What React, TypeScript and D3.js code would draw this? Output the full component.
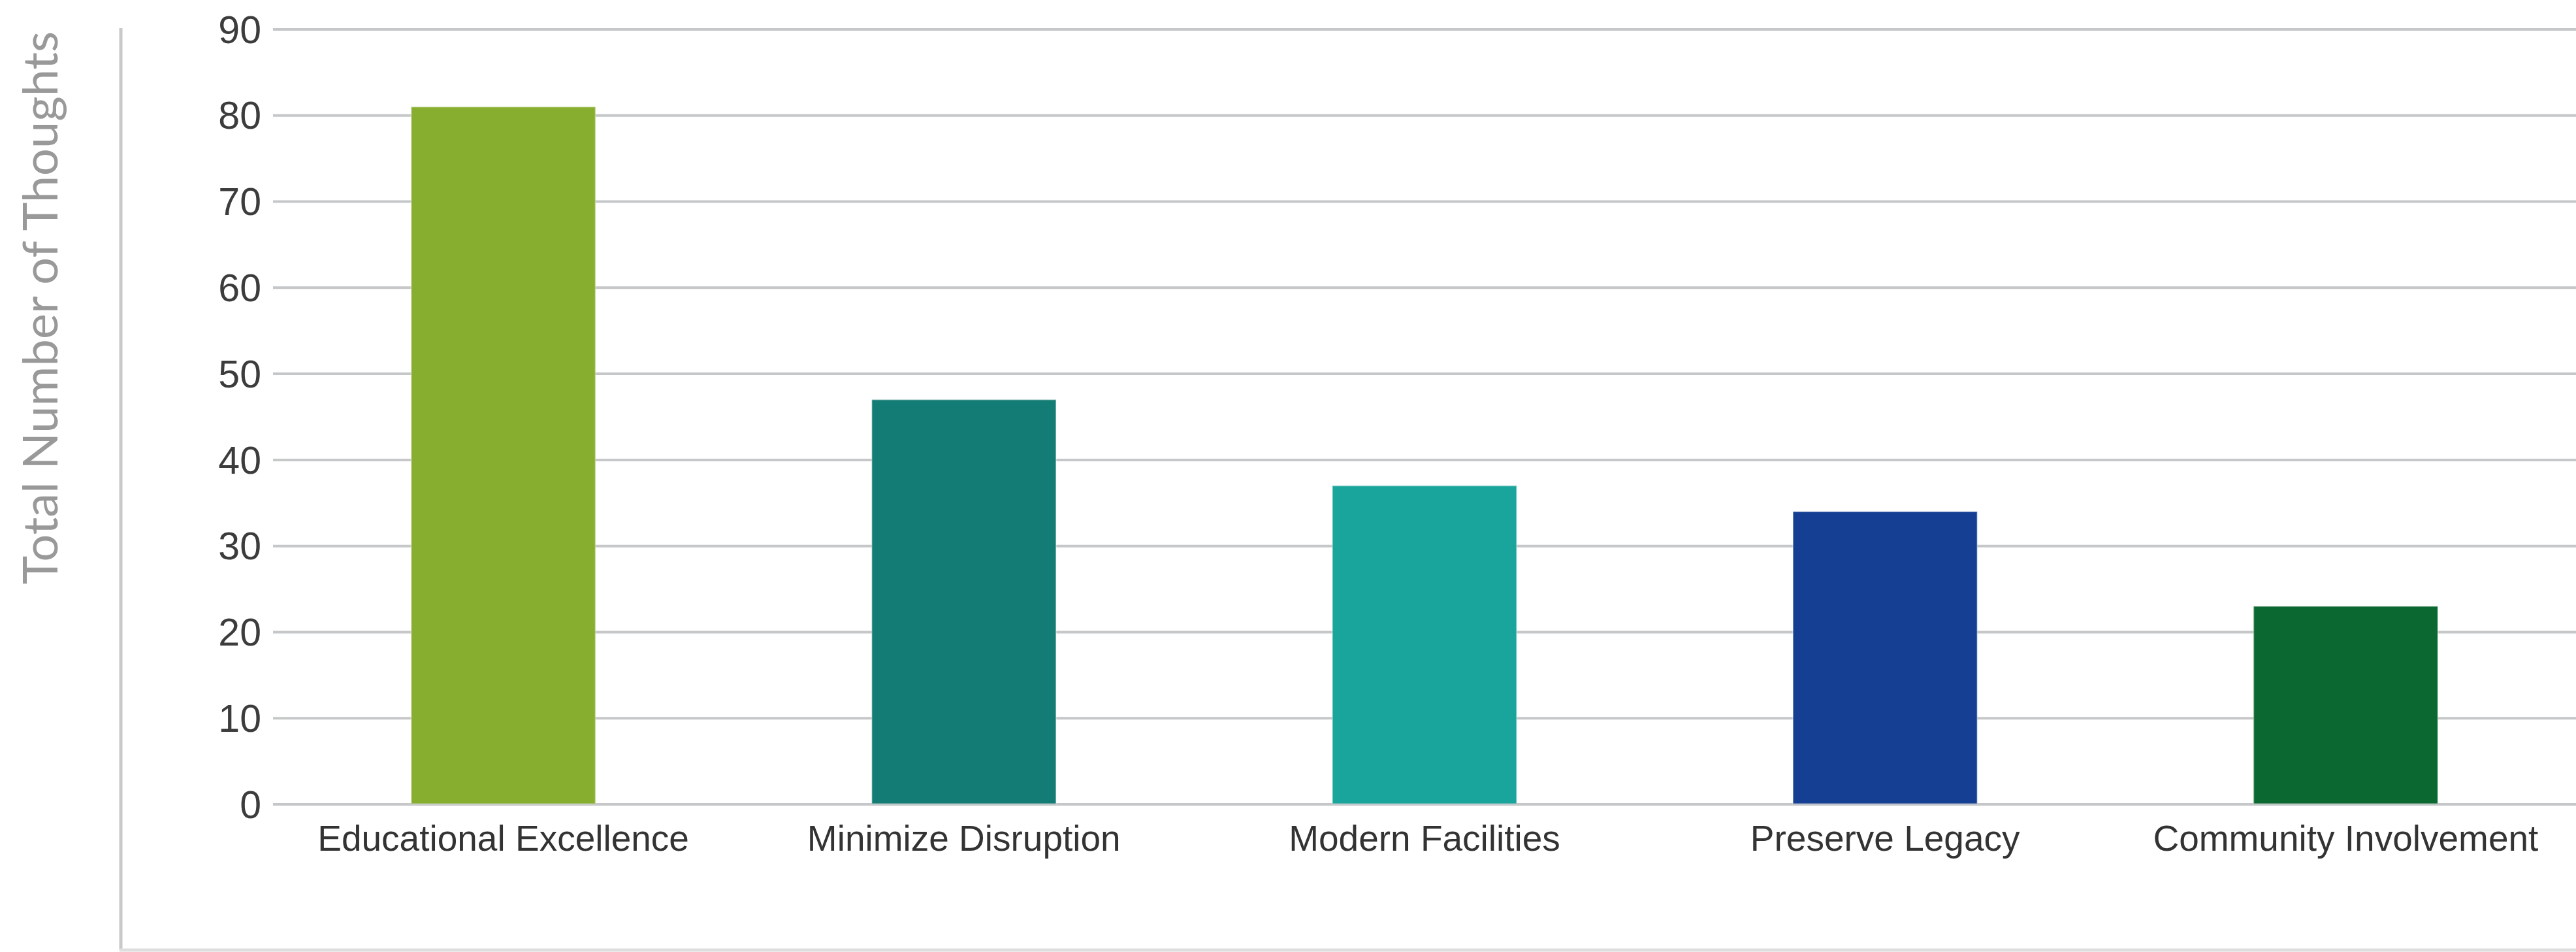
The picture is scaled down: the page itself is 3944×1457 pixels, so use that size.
import { useEffect, useRef } from 'react';
import * as d3 from 'd3';

const categories = [
  'Educational Excellence',
  'Minimize Disruption',
  'Modern Facilities',
  'Preserve Legacy',
  'Community Involvement'
];
const thoughts = [81, 47, 37, 34, 23];
const barColors = ['#88ae2f', '#137c74', '#19a59b', '#143f93', '#0b6830'];
const yTicks = [0, 10, 20, 30, 40, 50, 60, 70, 80, 90];
const yTitle = 'Total Number of Thoughts';

const WIDTH = 3944;
const HEIGHT = 1457;

export default function App() {
  const svgRef = useRef<SVGSVGElement>(null);

  useEffect(() => {
    if (!svgRef.current) return;
    const root = d3.select(svgRef.current);
    root.selectAll('*').remove();

    const plot = { left: 418, right: WIDTH, top: 45, bottom: 1231 };

    const x = d3
      .scaleBand<string>()
      .domain(categories)
      .range([plot.left, plot.right])
      .paddingInner(0.6)
      .paddingOuter(0.3);

    const y = d3.scaleLinear().domain([0, 90]).range([plot.bottom, plot.top]);

    root.append('rect').attr('width', WIDTH).attr('height', HEIGHT).attr('fill', '#ffffff');

    // frame on the left and bottom
    root
      .append('line')
      .attr('x1', 185)
      .attr('x2', 185)
      .attr('y1', 43)
      .attr('y2', HEIGHT - 3)
      .style('stroke', '#c9c9c9')
      .style('stroke-width', 5);
    root
      .append('line')
      .attr('x1', 183)
      .attr('x2', WIDTH)
      .attr('y1', HEIGHT - 3)
      .attr('y2', HEIGHT - 3)
      .style('stroke', '#dedede')
      .style('stroke-width', 5);

    // y axis title
    root
      .append('text')
      .attr('transform', `translate(88, 471) rotate(-90)`)
      .attr('text-anchor', 'middle')
      .style('font-family', 'Lato, sans-serif')
      .style('font-weight', 400)
      .style('font-size', '74px')
      .style('fill', '#999999')
      .text(yTitle);

    // grid lines
    root
      .append('g')
      .selectAll('line')
      .data(yTicks)
      .enter()
      .append('line')
      .attr('x1', plot.left)
      .attr('x2', plot.right)
      .attr('y1', (d) => y(d))
      .attr('y2', (d) => y(d))
      .style('stroke', '#c6c7c9')
      .style('stroke-width', 4);

    // tick labels
    root
      .append('g')
      .selectAll('text')
      .data(yTicks)
      .enter()
      .append('text')
      .attr('x', 400)
      .attr('y', (d) => y(d))
      .attr('dy', '0.35em')
      .attr('text-anchor', 'end')
      .style('font-family', '"Liberation Sans", Arial, sans-serif')
      .style('font-size', '59px')
      .style('fill', '#3c3c3c')
      .text((d) => d);

    // bars
    root
      .append('g')
      .selectAll('rect')
      .data(thoughts)
      .enter()
      .append('rect')
      .attr('x', (_, i) => x(categories[i])!)
      .attr('width', x.bandwidth())
      .attr('y', (d) => y(d))
      .attr('height', (d) => y(0) - y(d))
      .style('fill', (_, i) => barColors[i])
      .style('stroke', 'rgba(255,255,255,0.3)')
      .style('stroke-width', 2);

    // baseline shows faintly over the bar bottoms
    root
      .append('line')
      .attr('x1', plot.left)
      .attr('x2', plot.right)
      .attr('y1', y(0))
      .attr('y2', y(0))
      .style('stroke', '#c6c7c9')
      .style('stroke-opacity', 0.45)
      .style('stroke-width', 4);

    // category labels
    root
      .append('g')
      .selectAll('text')
      .data(categories)
      .enter()
      .append('text')
      .attr('x', (d) => x(d)! + x.bandwidth() / 2)
      .attr('y', 1302)
      .attr('text-anchor', 'middle')
      .style('font-family', '"Liberation Sans", Arial, sans-serif')
      .style('font-size', '55px')
      .style('fill', '#333333')
      .text((d) => d);
  }, []);

  return (
    <svg
      ref={svgRef}
      width={WIDTH}
      height={HEIGHT}
      style={{ position: 'absolute', left: 0, top: 0, display: 'block' }}
    />
  );
}
